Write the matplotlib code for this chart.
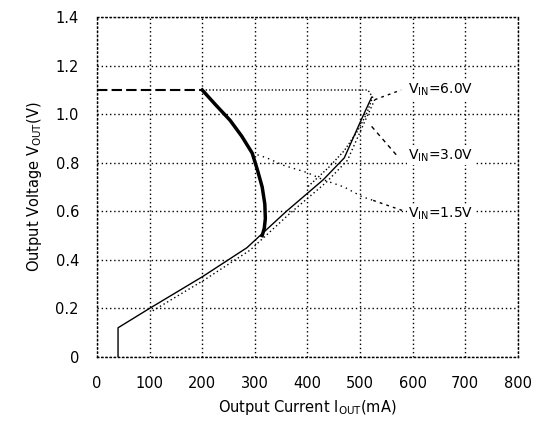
import numpy as np
import matplotlib
matplotlib.use("Agg")
import matplotlib.pyplot as plt

# foldback line (all curves share it)
diag_I = [40, 40, 100, 200, 285, 300, 360, 430, 470, 505, 522]
diag_V = [0, 0.12, 0.2, 0.33, 0.45, 0.48, 0.6, 0.73, 0.82, 0.99, 1.07]

# Vin=6.0V: flat at 1.1V then folds back
flat_I = [0, 200]
flat_V = [1.1, 1.1]
v6_I = [200, 515, 524, 512, 495, 470, 440, 400]
v6_V = [1.1, 1.1, 1.07, 1.0, 0.93, 0.85, 0.78, 0.70]

# Vin=3.0V: thick curve
v3_I = [200, 225, 253, 275, 295, 305, 314, 319, 320, 318, 314]
v3_V = [1.1, 1.04, 0.975, 0.91, 0.84, 0.77, 0.70, 0.63, 0.57, 0.53, 0.50]

# Vin=1.5V
v15_I = [295, 323, 354, 399, 430, 470, 504, 525]
v15_V = [0.84, 0.82, 0.79, 0.76, 0.73, 0.70, 0.66, 0.645]

labels = [r"V$_{\mathrm{IN}}$=6.0V", r"V$_{\mathrm{IN}}$=3.0V", r"V$_{\mathrm{IN}}$=1.5V"]
label_V = [1.10, 0.83, 0.59]

xticks = [0, 100, 200, 300, 400, 500, 600, 700, 800]
yticks = [0, 0.2, 0.4, 0.6, 0.8, 1.0, 1.2, 1.4]

fig = plt.figure(figsize=(5.48, 4.3), dpi=100)
ax = fig.add_axes([0.177, 0.170, 0.768, 0.790])

ax.plot(diag_I, diag_V, color="black", lw=1.0)
ax.plot(np.array(diag_I[2:]) + 6, np.array(diag_V[2:]) - 0.01, color="black", lw=1.0, ls=(0, (1, 2)))
ax.plot(flat_I, flat_V, color="black", lw=1.5, ls=(0, (5, 2)))
ax.plot(v6_I, v6_V, color="black", lw=1.0, ls=(0, (1, 1.5)))
ax.plot(v3_I, v3_V, color="black", lw=2.5)
ax.plot(v15_I, v15_V, color="black", lw=1.0, ls=(0, (1, 3)))

# leaders
ax.plot([528, 578], [1.06, 1.10], color="black", lw=1.0, ls=(0, (2, 3)))
ax.plot([522, 570], [0.95, 0.83], color="black", lw=1.0, ls=(0, (3, 3)))
ax.plot([525, 585], [0.645, 0.60], color="black", lw=1.0, ls=(0, (2, 3)))

for lab, v in zip(labels, label_V):
    ax.text(592, v, lab, fontsize=10, va="center", ha="left",
            bbox=dict(facecolor="white", edgecolor="none", pad=1))

ax.set_xlim(0, 800)
ax.set_ylim(0, 1.4)
ax.set_xticks(xticks)
ax.set_yticks(yticks)
ax.set_xticklabels([str(t) for t in xticks])
ax.set_yticklabels(["0", "0.2", "0.4", "0.6", "0.8", "1.0", "1.2", "1.4"])
ax.tick_params(length=0, labelsize=10.5)
ax.tick_params(axis="x", pad=14)
ax.tick_params(axis="y", pad=13)
ax.grid(True, color="black", ls=(0, (1, 2)), lw=1.0)
for s in ax.spines.values():
    s.set_linestyle((0, (1, 2)))
    s.set_linewidth(1.0)

ax.set_xlabel(r"Output Current I$_{\mathrm{OUT}}$(mA)", fontsize=10.5, labelpad=5)
ax.set_ylabel(r"Output Voltage V$_{\mathrm{OUT}}$(V)", fontsize=10.5, labelpad=8)

fig.savefig("out.png", dpi=100)
